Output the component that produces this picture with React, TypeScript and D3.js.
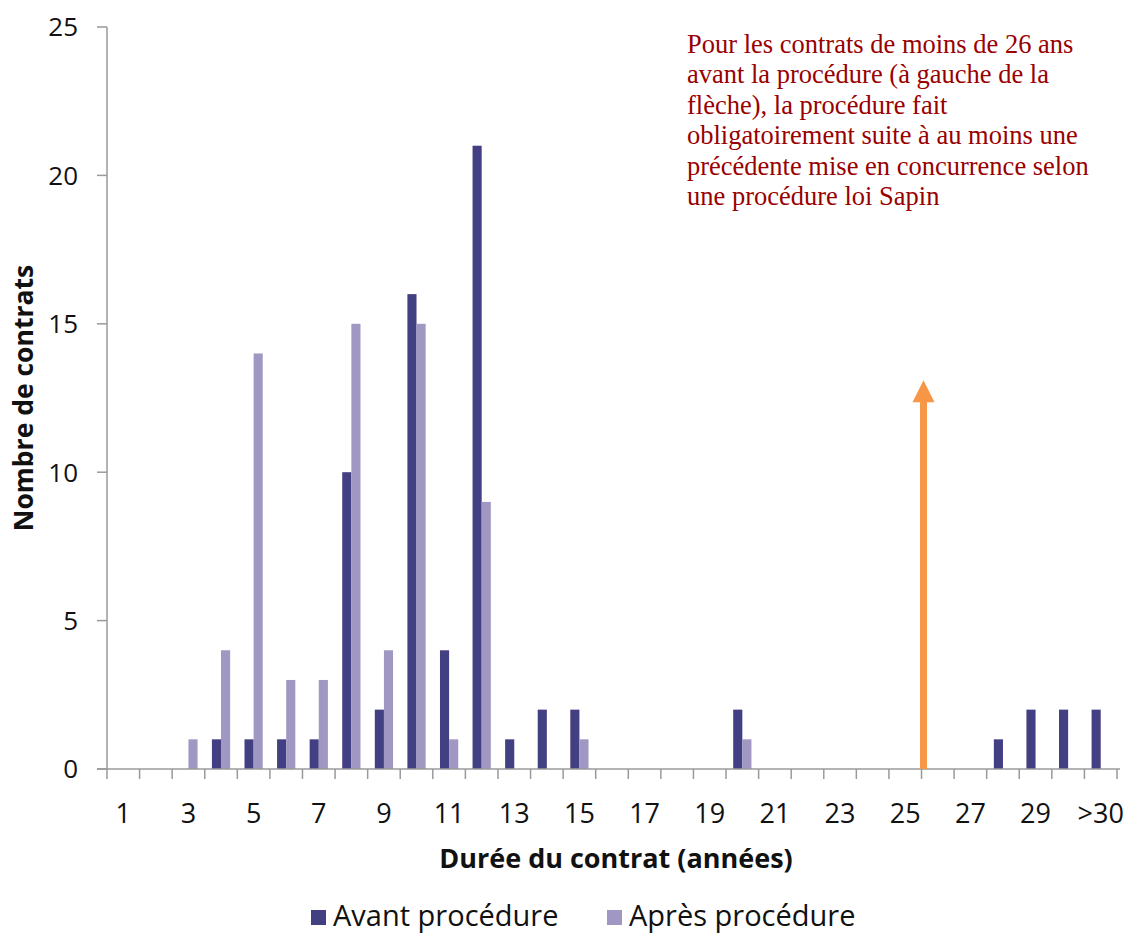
import React from "react";
import * as d3 from "d3";

const categories: string[] = [
  "1","2","3","4","5","6","7","8","9","10","11","12","13","14","15","16","17","18","19","20",
  "21","22","23","24","25","26","27","28","29","30",">30",
];
const avant: number[] = [0,0,0,1,1,1,1,10,2,16,4,21,1,2,2,0,0,0,0,2,0,0,0,0,0,0,0,1,2,2,2];
const apres: number[] = [0,0,1,4,14,3,3,15,4,15,1,9,0,0,1,0,0,0,0,1,0,0,0,0,0,0,0,0,0,0,0];
const tickLabels: string[] = ["1","3","5","7","9","11","13","15","17","19","21","23","25","27","29",">30"];
const yTicks: number[] = [0, 5, 10, 15, 20, 25];
const seriesNames: string[] = ["Avant procédure", "Après procédure"];
const seriesColors: string[] = ["#433F83", "#A098C2"];
const arrowPosition = 25; // boundary after category index 25 (between 25 and 26)
const arrowValue = 13.1;
const annotationLines: string[] = [
  "Pour les contrats de moins de 26 ans",
  "avant la procédure (à gauche de la",
  "flèche), la procédure fait",
  "obligatoirement suite à au moins une",
  "précédente mise en concurrence selon",
  "une procédure loi Sapin",
];

const W = 1129;
const H = 933;
const left = 107;
const right = 1117;
const top = 27;
const bottom = 769;
const sans = "'Open Sans', 'DejaVu Sans', sans-serif";

export default function App() {
  const x0 = d3.scaleBand<string>().domain(categories).range([left, right]).paddingInner(0.44).paddingOuter(0.22);
  const x1 = d3.scaleBand<string>().domain(seriesNames).range([0, x0.bandwidth()]).padding(0);
  const y = d3.scaleLinear().domain([0, 25]).range([bottom, top]);
  const step = x0.step();
  const boundaries = d3.range(categories.length + 1).map((i) => left + i * step);
  const data = [avant, apres];
  const arrowX = left + arrowPosition * step + 2;
  const arrowTop = y(arrowValue);
  const axisColor = "#9a9a9a";

  return (
    <svg width={W} height={H} style={{ position: "absolute", left: 0, top: 0, background: "#fff" }}>
      {data.map((vals, si) =>
        vals.map((v, i) =>
          v > 0 ? (
            <rect
              key={`${si}-${i}`}
              x={(x0(categories[i]) as number) + (x1(seriesNames[si]) as number)}
              y={y(v)}
              width={x1.bandwidth()}
              height={y(0) - y(v)}
              fill={seriesColors[si]}
            />
          ) : null
        )
      )}
      <line x1={left} x2={left} y1={top} y2={bottom} stroke={axisColor} strokeWidth={1.5} />
      {yTicks.map((t) => (
        <g key={t}>
          <line x1={left - 10} x2={left} y1={y(t)} y2={y(t)} stroke={axisColor} strokeWidth={1.5} />
          <text x={78} y={y(t)} dy="0.36em" textAnchor="end" fontFamily={sans} fontSize={26} fill="#111">
            {t}
          </text>
        </g>
      ))}
      <line x1={left - 10} x2={right + 3} y1={bottom} y2={bottom} stroke={axisColor} strokeWidth={1.5} />
      {boundaries.map((b, i) => (
        <line key={i} x1={b} x2={b} y1={bottom} y2={bottom + 10} stroke={axisColor} strokeWidth={1.5} />
      ))}
      {tickLabels.map((t) => {
        const cx = (x0(t) as number) + x0.bandwidth() / 2;
        return (
          <text key={t} x={cx} y={823} textAnchor="middle" fontFamily={sans} fontSize={27} fill="#111">
            {t}
          </text>
        );
      })}
      <line x1={arrowX} x2={arrowX} y1={bottom} y2={arrowTop + 20} stroke="#F79646" strokeWidth={7} />
      <path
        d={`M${arrowX - 11},${arrowTop + 22} L${arrowX},${arrowTop} L${arrowX + 11},${arrowTop + 22} Z`}
        fill="#F79646"
      />
      <text
        transform={`translate(33,398) rotate(-90)`}
        textAnchor="middle"
        fontFamily={sans}
        fontWeight="bold"
        fontSize={26.5}
        fill="#111"
      >
        Nombre de contrats
      </text>
      <text x={616} y={868} textAnchor="middle" fontFamily={sans} fontWeight="bold" fontSize={27} fill="#111">
        Durée du contrat (années)
      </text>
      {seriesNames.map((s, i) => {
        const lx = i === 0 ? 311 : 607;
        return (
          <g key={s}>
            <rect x={lx} y={910} width={15} height={15} fill={seriesColors[i]} />
            <text x={lx + 22} y={926} fontFamily={sans} fontSize={29} fill="#111">
              {s}
            </text>
          </g>
        );
      })}
      <text fontFamily="'Liberation Serif', 'Times New Roman', serif" fontSize={26.5} fill="#990000">
        {annotationLines.map((l, i) => (
          <tspan key={i} x={687} y={53 + i * 30.4}>
            {l}
          </tspan>
        ))}
      </text>
    </svg>
  );
}
